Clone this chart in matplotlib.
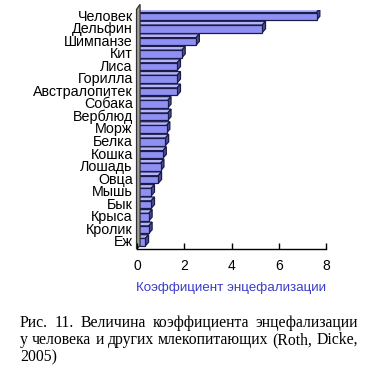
import numpy as np
import matplotlib.pyplot as plt
from matplotlib.patches import Polygon

animals = ['Человек', 'Дельфин', 'Шимпанзе', 'Кит', 'Лиса', 'Горилла',
           'Австралопитек', 'Собака', 'Верблюд', 'Морж', 'Белка', 'Кошка',
           'Лошадь', 'Овца', 'Мышь', 'Бык', 'Крыса', 'Кролик', 'Еж']
eq = [7.6, 5.3, 2.5, 1.9, 1.7, 1.7, 1.7, 1.3, 1.3, 1.25, 1.2, 1.1,
      1.0, 0.9, 0.6, 0.6, 0.5, 0.5, 0.35]
xticks = [0, 2, 4, 6, 8]
caption = ['Рис. 11. Величина коэффициента энцефализации',
           'у человека и других млекопитающих (Roth, Dicke,',
           '2005)']

W, H = 373, 370
fig = plt.figure(figsize=(W / 100, H / 100), dpi=100)
ax = fig.add_axes([137 / W, 1 - 249 / H, 189 / W, 239 / H])

n = len(animals)
ypos = np.arange(n)[::-1]
face = '#9090f4'
side = '#4c4c9c'
top = '#b4b4f8'
edge = '#1c1c48'
bh = 0.6
dx, dy = 0.14, 0.3

for y, v in zip(ypos, eq):
    y0, y1 = y - bh / 2 - 0.1, y + bh / 2 - 0.1
    ax.add_patch(Polygon([(0, y1), (v, y1), (v + dx, y1 + dy), (dx, y1 + dy)],
                         closed=True, fc=top, ec=edge, lw=0.9))
    ax.add_patch(Polygon([(v, y0), (v + dx, y0 + dy), (v + dx, y1 + dy), (v, y1)],
                         closed=True, fc=side, ec=edge, lw=0.9))
    ax.add_patch(Polygon([(0, y0), (v, y0), (v, y1), (0, y1)],
                         closed=True, fc=face, ec=edge, lw=0.9))

# back wall on the left
ax.add_patch(Polygon([(-0.02, -0.64), (0.13, -0.36), (0.13, 18.85), (-0.02, 18.45)],
                     closed=True, fc='#a0a0a0', ec='#303030', lw=0.9, clip_on=False))

ax.set_xlim(0, 8)
ax.set_ylim(-0.64, 18.4)
ax.set_yticks(ypos)
ax.set_yticklabels(animals, fontsize=10.3, family='Liberation Sans')
ax.tick_params(axis='y', length=0, pad=3)
ax.set_xticks(xticks)
ax.set_xticklabels([str(t) for t in xticks], fontsize=10, family='Liberation Sans')
ax.tick_params(axis='x', length=4, width=1, direction='in', pad=7)
for s in ['top', 'right', 'left']:
    ax.spines[s].set_visible(False)
ax.spines['bottom'].set_linewidth(1)
ax.set_xlabel('Коэффициент энцефализации', fontsize=9.6, color='#3c3cc8',
              family='Liberation Sans', labelpad=7)

# caption, justified
fig.canvas.draw()
r = fig.canvas.get_renderer()
left, right = 20 / W, 358 / W
ys = [1 - 323 / H, 1 - 340 / H, 1 - 357 / H]
for i, (line, yy) in enumerate(zip(caption, ys)):
    words = line.split(' ')
    if i == len(caption) - 1:
        fig.text(left, yy, line, fontsize=11.3, family='Liberation Serif', va='center')
        continue
    ts = [fig.text(0, yy, w, fontsize=11.3, family='Liberation Serif', va='center') for w in words]
    widths = [t.get_window_extent(r).width / W for t in ts]
    gap = (right - left - sum(widths)) / (len(words) - 1)
    x = left
    for t, w in zip(ts, widths):
        t.set_x(x)
        x += w + gap

fig.savefig('out.png', dpi=100)
